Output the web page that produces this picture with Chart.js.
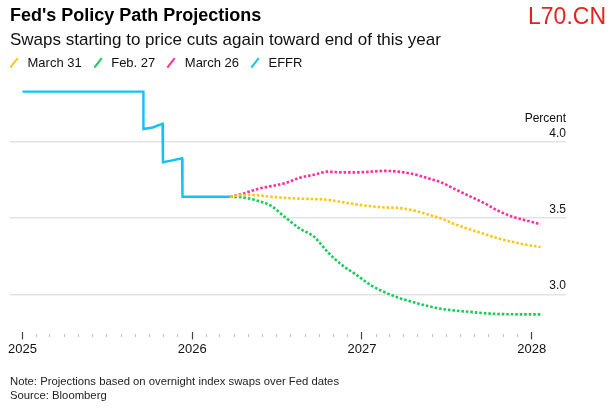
<!DOCTYPE html>
<html>
<head>
<meta charset="utf-8">
<script src="https://cdn.jsdelivr.net/npm/chart.js@4.4.1/dist/chart.umd.min.js"></script>
<style>
  html, body { margin: 0; padding: 0; background: #fff; }
  body { width: 616px; height: 415px; position: relative; overflow: hidden; font-family: "Liberation Sans", Arial, sans-serif; }
  canvas { position: absolute; left: 0; top: 0; }
  .txt { position: absolute; white-space: nowrap; }
  #title { left: 10px; top: 5px; font-size: 18px; font-weight: bold; color: #000; line-height: 20px; }
  #sub { left: 10px; top: 30px; font-size: 17px; color: #111; line-height: 20px; }
  #mark { right: 10px; top: 4px; font-size: 23px; color: #e3231e; line-height: 25px; }
  #legend { left: 10px; top: 55px; font-size: 13px; color: #111; line-height: 16px; display: flex; align-items: center; }
  .item { display: flex; align-items: center; margin-right: 12px; }
  .icon { width: 8px; height: 12px; position: relative; margin-right: 9.5px; }
  .icon span { position: absolute; left: 3px; top: 0; width: 2.2px; height: 12px; transform: rotate(38deg); }
  #note { left: 10px; top: 374px; font-size: 11.3px; color: #222; line-height: 14px; }
</style>
</head>
<body>
<canvas id="grafica" width="616" height="415"></canvas>
<div class="txt" id="title">Fed's Policy Path Projections</div>
<div class="txt" id="sub">Swaps starting to price cuts again toward end of this year</div>
<div class="txt" id="mark">L70.CN</div>
<div class="txt" id="legend"></div>
<div class="txt" id="note">Note: Projections based on overnight index swaps over Fed dates<br>Source: Bloomberg</div>
<script>
// series names and colours (legend order)
const seriesLabels = ['March 31', 'Feb. 27', 'March 26', 'EFFR'];
const seriesColors = ['#ffc61a', '#17cc5a', '#ff2f9e', '#12c2f7'];

// axis ticks
const yearTicks = [2025, 2026, 2027, 2028];
const yTicks = [3.0, 3.5, 4.0];

// effective fed funds rate (actual)
const effrDates = ['2025-01-01', '2025-09-18', '2025-09-18', '2025-10-08', '2025-10-29', '2025-10-30',
  '2025-11-14', '2025-12-10', '2025-12-11', '2026-03-23'];
const effrValues = [4.33, 4.33, 4.085, 4.095, 4.12, 3.867, 3.876, 3.893, 3.64, 3.64];

// swap-implied path, sampled monthly
const fwdDates = ['2026-03-23', '2026-04-20', '2026-05-20', '2026-06-20', '2026-07-20', '2026-08-20',
  '2026-09-20', '2026-10-20', '2026-11-20', '2026-12-20', '2027-01-20', '2027-02-20', '2027-03-20',
  '2027-04-20', '2027-05-20', '2027-06-20', '2027-07-20', '2027-08-20', '2027-09-20', '2027-10-20',
  '2027-11-20', '2027-12-20', '2028-01-20'];
const march31 = [3.64, 3.652, 3.65, 3.64, 3.633, 3.628, 3.625, 3.62, 3.605, 3.59, 3.578, 3.57, 3.567,
  3.552, 3.527, 3.498, 3.46, 3.427, 3.397, 3.368, 3.345, 3.325, 3.31];
const feb27 = [3.64, 3.636, 3.615, 3.58, 3.505, 3.432, 3.378, 3.275, 3.19, 3.128, 3.06, 3.012, 2.978,
  2.95, 2.925, 2.905, 2.893, 2.885, 2.876, 2.871, 2.869, 2.868, 2.868];
const march26 = [3.64, 3.66, 3.69, 3.71, 3.73, 3.765, 3.785, 3.805, 3.80, 3.80, 3.805, 3.81, 3.805,
  3.79, 3.765, 3.735, 3.69, 3.645, 3.60, 3.55, 3.51, 3.485, 3.46];

function toYear(s) {
  const [y, m, d] = s.split('-').map(Number);
  const start = Date.UTC(y, 0, 1), end = Date.UTC(y + 1, 0, 1);
  return y + (Date.UTC(y, m - 1, d) - start) / (end - start);
}

function points(dates, values) {
  return dates.map((d, i) => ({ x: toYear(d), y: values[i] }));
}

function isMajor(v) {
  return Math.abs(v - Math.round(v)) < 1e-6;
}

// monthly tick marks between the first and last year
const monthTicks = [];
for (let y = yearTicks[0]; y <= yearTicks[yearTicks.length - 1]; y++) {
  for (let m = 1; m <= 12; m++) {
    if (y === yearTicks[yearTicks.length - 1] && m > 1) break;
    monthTicks.push(toYear(y + '-' + String(m).padStart(2, '0') + '-01'));
  }
}

// html legend
const legend = document.getElementById('legend');
seriesLabels.forEach(function (label, i) {
  const item = document.createElement('div');
  item.className = 'item';
  item.innerHTML = '<div class="icon"><span style="background:' + seriesColors[i] + '"></span></div>' + label;
  legend.appendChild(item);
});

const dotted = { borderWidth: 2.6, borderDash: [2.6, 1.9], pointRadius: 0, fill: false, cubicInterpolationMode: 'monotone' };

const ctx = document.getElementById('grafica').getContext('2d');
const grafica = new Chart(ctx, {
  type: 'line',
  data: {
    datasets: [
      Object.assign({ label: seriesLabels[0], data: points(fwdDates, march31), borderColor: seriesColors[0] }, dotted),
      Object.assign({ label: seriesLabels[1], data: points(fwdDates, feb27), borderColor: seriesColors[1] }, dotted),
      Object.assign({ label: seriesLabels[2], data: points(fwdDates, march26), borderColor: seriesColors[2] }, dotted),
      {
        label: seriesLabels[3],
        data: points(effrDates, effrValues),
        borderColor: seriesColors[3],
        borderWidth: 2.4,
        pointRadius: 0,
        tension: 0,
        borderJoinStyle: 'miter'
      }
    ]
  },
  options: {
    responsive: false,
    animation: false,
    layout: { padding: { top: 81, left: 10, right: 50, bottom: 56 } },
    plugins: { legend: { display: false }, tooltip: { enabled: false } },
    scales: {
      x: {
        type: 'linear',
        min: toYear('2024-12-05'),
        max: toYear('2028-03-15'),
        border: { display: false },
        grid: {
          drawOnChartArea: false,
          tickLength: 7,
          tickWidth: 1.2,
          tickColor: c => isMajor(c.tick.value) ? '#444' : '#c8c8c8',
          tickBorderDash: c => isMajor(c.tick.value) ? [] : [0, 2, 3, 20]
        },
        afterBuildTicks: s => { s.ticks = monthTicks.map(v => ({ value: v })); },
        ticks: {
          autoSkip: false,
          maxRotation: 0,
          padding: 2,
          color: '#111',
          font: { family: 'Liberation Sans', size: 13 },
          callback: v => isMajor(v) ? String(Math.round(v)) : ''
        }
      },
      y: {
        position: 'right',
        min: 2.75,
        max: 4.4,
        border: { display: false },
        grid: { color: '#e3e3e3', lineWidth: 1.5, drawTicks: false },
        afterBuildTicks: s => { s.ticks = yTicks.map(v => ({ value: v })); },
        ticks: {
          mirror: true,
          padding: 0,
          labelOffset: -16,
          color: '#111',
          font: { family: 'Liberation Sans', size: 12, lineHeight: 1.28 },
          callback: v => v === 4 ? ['Percent', '4.0'] : ['', v.toFixed(1)]
        }
      }
    }
  }
});
</script>
</body>
</html>
